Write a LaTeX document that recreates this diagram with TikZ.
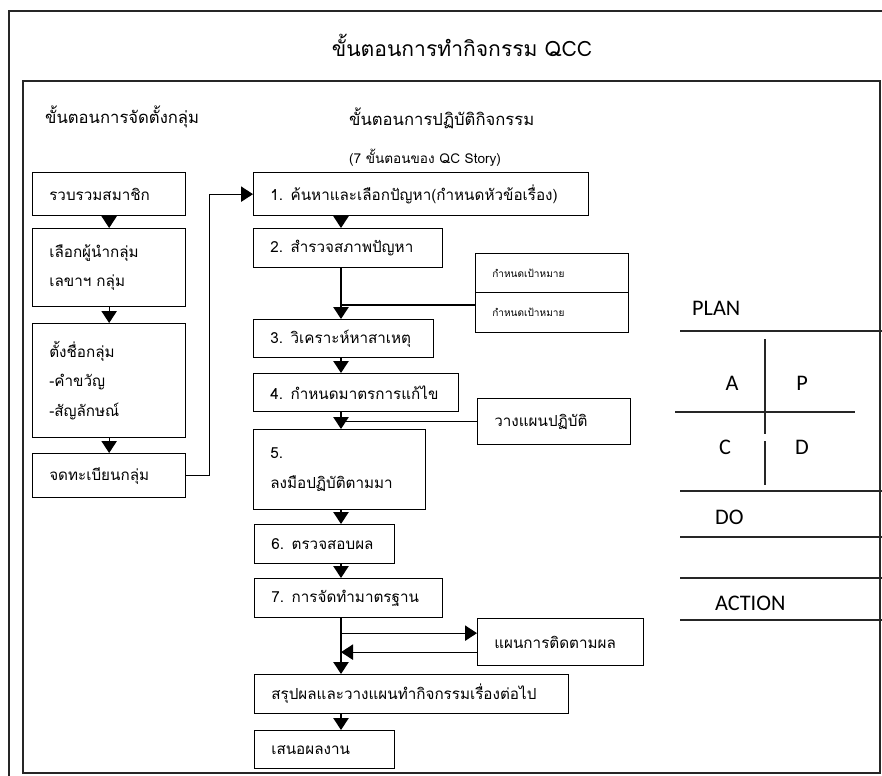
\documentclass[tikz,border=0pt]{standalone}
\usepackage{fontspec}
\setmainfont{Carlito}
\newfontfamily\thai[Script=Thai]{Loma}
\usetikzlibrary{arrows.meta}
\usetikzlibrary{calc}

\begin{document}
\begin{tikzpicture}[x=0.03cm, y=-0.03cm,
    box/.style={draw=black, line width=1.1pt, anchor=north west, align=left,
        inner xsep=0.5cm, inner ysep=0pt, font=\thai\fontsize{13}{25}\selectfont},
    note/.style={box, font=\thai\fontsize{8.6}{10}\selectfont},
    arr/.style={line width=1.1pt, -{Triangle[width=0.46cm, length=0.36cm]}},
    link/.style={line width=1.1pt},
    frame/.style={line width=1.4pt, black!85},
    rule/.style={line width=1pt, black!85},
    pdca/.style={font=\fontsize{19}{22}\selectfont}]
    \useasboundingbox (0,0) rectangle (882,776);

    % Frames
    \draw[frame] (882,11) -- (9,11) -- (9,776);
    \draw[frame] (23,81) rectangle (880,773);

    % Titles
    \node[font=\thai\fontsize{18}{20}\selectfont] (title) at (462,45) {ขั้นตอนการทำกิจกรรม QCC};
    \node[anchor=west, font=\thai\fontsize{14.2}{16}\selectfont] (setup) at (41,117) {ขั้นตอนการจัดตั้งกลุ่ม};
    \node[anchor=west, font=\thai\fontsize{14.2}{16}\selectfont] (work) at (345,118) {ขั้นตอนการปฏิบัติกิจกรรม};
    \node[anchor=west, font=\thai\fontsize{11.6}{13}\selectfont] (story) at (345,158) {(7 ขั้นตอนของ QC Story)};

    % Setting up the group
    \node[box, text width=3.59cm, minimum height=1.29cm] (l1) at (32,172) {รวบรวมสมาชิก};
    \node[box, text width=3.59cm, minimum height=2.34cm] (l2) at (32,228) {เลือกผู้นำกลุ่ม\\เลขาฯ กลุ่ม};
    \node[box, text width=3.59cm, minimum height=3.42cm] (l3) at (32,323) {ตั้งชื่อกลุ่ม\\-คำขวัญ\\-สัญลักษณ์};
    \node[box, text width=3.59cm, minimum height=1.32cm] (l4) at (32,453) {จดทะเบียนกลุ่ม};

    % The 7 steps
    \node[box, text width=9.05cm, minimum height=1.29cm] (m1) at (253,172) {1. ค้นหาและเลือกปัญหา(กำหนดหัวข้อเรื่อง)};
    \node[box, text width=4.67cm, minimum height=1.17cm] (m2) at (253,228) {2. สำรวจสภาพปัญหา};
    \node[box, text width=4.40cm, minimum height=1.14cm] (m3) at (253,319) {3. วิเคราะห์หาสาเหตุ};
    \node[box, text width=5.15cm, minimum height=1.14cm] (m4) at (253,373) {4. กำหนดมาตรการแก้ไข};
    \node[box, text width=4.16cm, minimum height=2.40cm] (m5) at (253,429) {5.\\ลงมือปฏิบัติตามมา};
    \node[box, text width=3.20cm, minimum height=1.17cm] (m6) at (254,524) {6. ตรวจสอบผล};
    \node[box, text width=4.64cm, minimum height=1.17cm] (m7) at (254,578) {7. การจัดทำมาตรฐาน};
    \node[box, text width=8.42cm, minimum height=1.17cm] (m8) at (254,674) {สรุปผลและวางแผนทำกิจกรรมเรื่องต่อไป};
    \node[box, text width=3.20cm, minimum height=1.14cm] (m9) at (254,730) {เสนอผลงาน};

    % Side boxes
    \node[note, text width=3.59cm, minimum height=1.17cm] (s1) at (475,253) {กำหนดเป้าหมาย};
    \node[note, text width=3.59cm, minimum height=1.20cm] (s2) at (475,292) {กำหนดเป้าหมาย};
    \node[box, text width=3.59cm, minimum height=1.38cm] (s3) at (477,398) {วางแผนปฏิบัติ};
    \node[box, text width=3.98cm, minimum height=1.41cm] (s4) at (477,618) {แผนการติดตามผล};

    % The lines!
    \coordinate (spine) at (341,0);
    \coordinate (goal) at (475,305);
    \coordinate (fwd) at ($(s4.west)+(0,-9)$);
    \coordinate (back) at ($(s4.west)+(0,10)$);
    \draw[arr] (l1) -- (l2);
    \draw[arr] (l2) -- (l3);
    \draw[arr] (l3) -- (l4);
    \draw[arr] (l4.east) -- ++(23,0) |- (m1.west);
    \draw[arr] (m1.south -| spine) -- (m2.north -| spine);
    \draw[arr] (m2.south -| spine) -- (m3.north -| spine);
    \draw[link] (goal) -- (goal -| spine);
    \draw[arr] (m3.south -| spine) -- (m4.north -| spine);
    \draw[arr] (m4.south -| spine) -- (m5.north -| spine);
    \draw[link] (s3.west) -- (s3.west -| spine);
    \draw[arr] (m5.south -| spine) -- (m6.north -| spine);
    \draw[arr] (m6.south -| spine) -- (m7.north -| spine);
    \draw[arr] (m7.south -| spine) -- (m8.north -| spine);
    \draw[arr] (fwd -| spine) -- (fwd);
    \draw[arr] (back) -- (back -| spine);
    \draw[arr] (m8.south -| spine) -- (m9.north -| spine);

    % PDCA
    \node[pdca, anchor=west] (plan) at (688,308) {PLAN};
    \node[pdca] (a) at (732,383) {A};
    \node[pdca] (p) at (802,383) {P};
    \node[pdca] (c) at (725,447) {C};
    \node[pdca] (d) at (802,447) {D};
    \node[pdca, anchor=west] (do) at (711,517) {DO};
    \node[pdca, anchor=west] (act) at (711,603) {ACTION};
    \draw[rule] (680,331) -- (882,331);
    \draw[rule] (765,339) -- (765,434);
    \draw[rule] (765,441) -- (765,485);
    \draw[rule] (675,412) -- (855,412);
    \draw[rule] (680,491) -- (882,491);
    \draw[rule] (680,537) -- (882,537);
    \draw[rule] (680,578) -- (882,578);
    \draw[rule] (680,620) -- (882,620);
\end{tikzpicture}
\end{document}
